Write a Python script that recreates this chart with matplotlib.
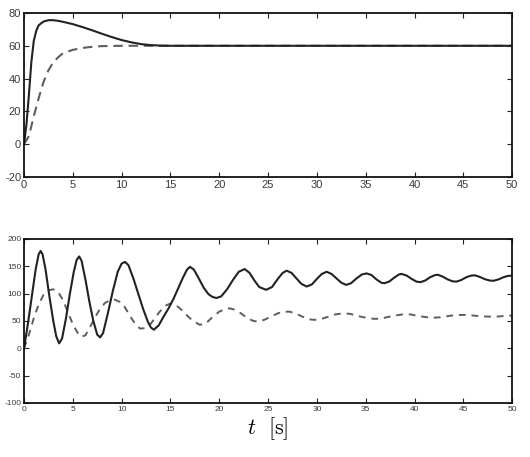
import matplotlib
matplotlib.use("Agg")
import matplotlib.pyplot as plt

plt.rcParams['font.family'] = ['Liberation Sans', 'DejaVu Sans']
plt.rcParams['axes.unicode_minus'] = False
plt.rcParams['mathtext.fontset'] = 'cm'

# ---- Top panel data ----
top_solid_t = [0, 0.25, 0.5, 0.75, 1.0, 1.25, 1.5, 2.0, 2.5, 3.0, 3.5, 4.0, 5.0, 6.0, 7.0,
               8.0, 9.0, 10.0, 11.0, 12.0, 13.0, 14.0, 15.0, 50.0]
top_solid_y = [0, 12, 30, 50, 63, 69, 72.5, 74.8, 75.6, 75.6, 75.2, 74.6, 73.2, 71.4, 69.4,
               67.3, 65.3, 63.5, 62.1, 61.0, 60.4, 60.1, 60.0, 60.0]
top_dash_t = [0, 0.5, 1.0, 1.5, 2.0, 2.5, 3.0, 3.5, 4.0, 5.0, 6.0, 7.0, 8.0, 10.0, 50.0]
top_dash_y = [0, 5, 17, 28, 38, 45, 50, 53, 55.5, 57.5, 58.7, 59.4, 59.8, 60.0, 60.0]

# ---- Bottom panel data ----
bot_solid_t = [0, 0.4, 0.8, 1.2, 1.5, 1.7, 1.9, 2.2, 2.6, 3.0, 3.3, 3.6, 3.9, 4.3, 4.7, 5.1,
               5.4, 5.65, 5.9, 6.3, 6.7, 7.1, 7.5, 7.8, 8.1, 8.6, 9.1, 9.6, 10.0, 10.35,
               10.7, 11.2, 11.7, 12.2, 12.7, 13.0, 13.3, 13.8, 14.3, 14.8, 15.3, 15.8,
               16.3, 16.7, 17.0, 17.4, 17.9, 18.4, 18.9, 19.3, 19.7, 20.2, 20.8, 21.4,
               22.0, 22.6, 23.1, 23.6, 24.1, 24.8, 25.4, 26.0, 26.5, 26.9, 27.4, 27.9,
               28.4, 28.95, 29.5, 30.0, 30.5, 31.0, 31.5, 32.0, 32.5, 33.0, 33.5, 34.0,
               34.6, 35.1, 35.6, 36.1, 36.6, 36.9, 37.4, 37.9, 38.4, 38.7, 39.2, 39.7,
               40.2, 40.6, 41.1, 41.6, 42.1, 42.4, 42.9, 43.4, 43.9, 44.3, 44.8, 45.3,
               45.8, 46.2, 46.7, 47.2, 47.7, 48.1, 48.6, 49.1, 49.6, 50.0]
bot_solid_y = [0, 45, 95, 145, 172, 178, 172, 145, 95, 50, 22, 9, 18, 55, 100, 140,
               162, 168, 160, 125, 85, 50, 25, 20, 28, 65, 105, 140, 155, 158,
               152, 128, 100, 72, 48, 38, 34, 42, 58, 73, 90, 110,
               130, 144, 149, 144, 128, 111, 99, 94, 92, 95, 108, 125,
               140, 145, 138, 124, 112, 107, 112, 127, 138, 142, 138, 128,
               118, 113, 117, 127, 136, 140, 136, 128, 120, 116, 119, 127,
               135, 137, 134, 126, 120, 119, 122, 129, 135, 136, 133, 127,
               122, 121, 124, 130, 134, 134.5, 131, 126, 122.5, 122, 125, 130,
               133, 133.5, 130.5, 126.5, 124, 123.5, 126, 130, 132.5, 133]
bot_dash_t = [0, 0.5, 1.0, 1.5, 2.0, 2.5, 3.0, 3.5, 4.0, 4.5, 5.0, 5.5, 5.9, 6.3, 6.8,
              7.3, 7.8, 8.3, 8.8, 9.3, 9.8, 10.2, 10.6, 11.0, 11.5, 11.9, 12.4, 12.9,
              13.4, 13.9, 14.5, 15.0, 15.5, 16.1, 16.7, 17.3, 18.0, 18.6, 19.3, 20.0,
              20.6, 21.1, 21.7, 22.3, 22.9, 23.5, 24.0, 24.6, 25.3, 26.0, 26.6, 27.2,
              27.8, 28.5, 29.2, 29.8, 30.5, 31.2, 31.9, 32.7, 33.4, 34.2, 35.0, 35.8,
              36.5, 37.2, 38.0, 38.8, 39.6, 40.4, 41.2, 42.0, 42.8, 43.6, 44.4, 45.2,
              46.0, 46.8, 47.6, 48.4, 49.2, 50.0]
bot_dash_y = [0, 25, 55, 80, 98, 106, 108, 103, 88, 66, 44, 28, 21, 24, 40,
              57, 73, 83, 88, 89, 85, 79, 67, 55, 42, 36, 37, 43,
              55, 67, 78, 82, 80, 71, 60, 50, 43, 45, 57, 67,
              72, 73, 70, 63, 55, 50, 49, 52, 58, 64, 67, 67,
              64, 58, 53, 52, 54, 58, 62, 64, 63, 59, 56, 54,
              54, 57, 60, 62, 62, 59, 57, 56, 57, 59.5, 61, 61,
              60, 58.5, 58, 58, 59, 60]

x_ticks = [0, 5, 10, 15, 20, 25, 30, 35, 40, 45, 50]
top_yticks = [-20, 0, 20, 40, 60, 80]
bot_yticks = [-100, -50, 0, 50, 100, 150, 200]

solid_color = '#222222'
dash_color = '#5e5e5e'

fig = plt.figure(figsize=(5.30, 4.57), dpi=100)
ax1 = fig.add_axes([0.0453, 0.6127, 0.921, 0.3589])
ax2 = fig.add_axes([0.0453, 0.1182, 0.921, 0.3589])

ax1.plot(top_dash_t, top_dash_y, color=dash_color, lw=1.5, dashes=(4.5, 2.8))
ax1.plot(top_solid_t, top_solid_y, color=solid_color, lw=1.5)
ax2.plot(bot_dash_t, bot_dash_y, color=dash_color, lw=1.4, dashes=(3.5, 3))
ax2.plot(bot_solid_t, bot_solid_y, color=solid_color, lw=1.5)

for ax, yt, fs in [(ax1, top_yticks, 8), (ax2, bot_yticks, 6)]:
    ax.set_xlim(0, 50)
    ax.set_ylim(yt[0], yt[-1])
    ax.set_xticks(x_ticks)
    ax.set_yticks(yt)
    ax.tick_params(direction='in', length=3.5, width=0.8, top=True, right=True,
                   labelsize=fs, colors='#222222', pad=2, labelcolor='#3a3a3a')
    for s in ax.spines.values():
        s.set_linewidth(1.3)
        s.set_color('#111111')

ax2.set_xlabel(r'$t\ \ [\mathrm{s}]$', fontsize=16, labelpad=2)

fig.savefig('out.png', dpi=100)
